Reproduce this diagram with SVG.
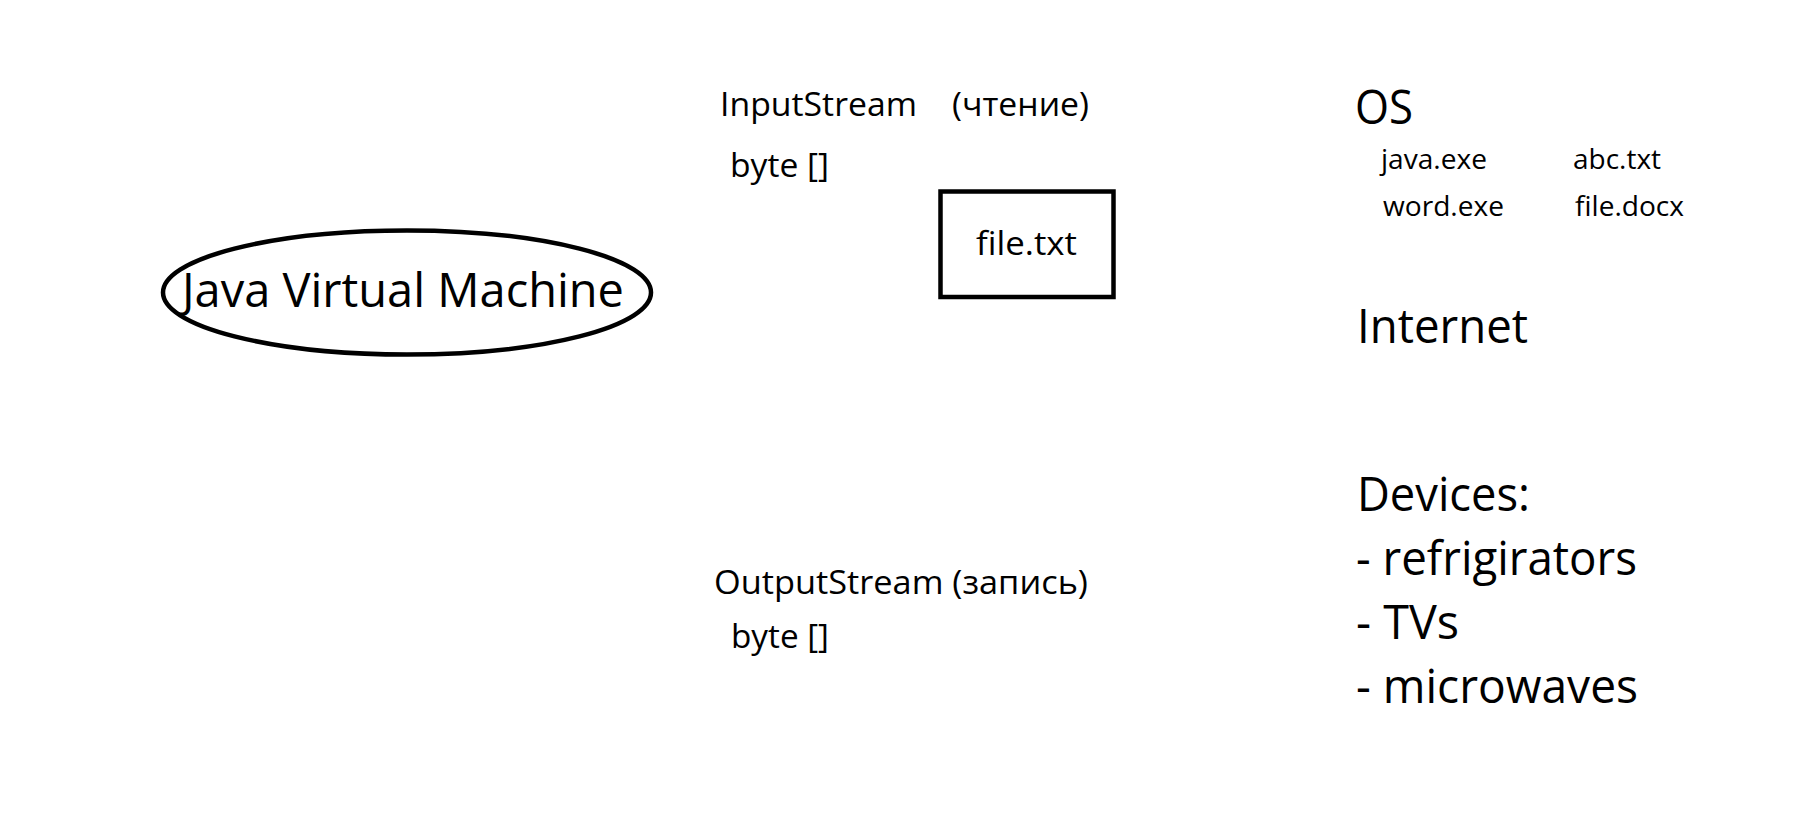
<svg xmlns="http://www.w3.org/2000/svg" width="1818" height="823" viewBox="0 0 1818 823">
<style>
text{font-family:"Open Sans","Noto Sans","Liberation Sans",sans-serif;fill:#000}
.m{font-size:33px}
.l{font-size:47.5px}
.s{font-size:27px}
.shape{fill:none;stroke:#000;stroke-width:4.5}
</style>
<rect width="1818" height="823" fill="#fff"/>
<g id="jvm">
<ellipse class="shape" cx="407" cy="292.5" rx="244" ry="62"/>
<text class="l" x="182" y="307" textLength="442" lengthAdjust="spacingAndGlyphs">Java Virtual Machine</text>
</g>
<g id="inputstream">
<text class="m" x="720" y="116" textLength="197" lengthAdjust="spacingAndGlyphs">InputStream</text>
<text class="m" x="952" y="116" textLength="137" lengthAdjust="spacingAndGlyphs">(чтение)</text>
<text class="m" x="730" y="177" textLength="99" lengthAdjust="spacingAndGlyphs">byte []</text>
</g>
<g id="file">
<rect class="shape" x="940.5" y="191.5" width="173" height="105.5"/>
<text class="m" x="976" y="255" textLength="101" lengthAdjust="spacingAndGlyphs">file.txt</text>
</g>
<g id="outputstream">
<text class="m" x="714" y="594" textLength="374" lengthAdjust="spacingAndGlyphs">OutputStream (запись)</text>
<text class="m" x="731" y="648" textLength="98" lengthAdjust="spacingAndGlyphs">byte []</text>
</g>
<g id="os">
<text class="l" x="1355" y="124" textLength="58" lengthAdjust="spacingAndGlyphs">OS</text>
<text class="s" x="1381" y="169" textLength="106" lengthAdjust="spacingAndGlyphs">java.exe</text>
<text class="s" x="1573" y="169" textLength="88" lengthAdjust="spacingAndGlyphs">abc.txt</text>
<text class="s" x="1383" y="216" textLength="121" lengthAdjust="spacingAndGlyphs">word.exe</text>
<text class="s" x="1575" y="216" textLength="109" lengthAdjust="spacingAndGlyphs">file.docx</text>
</g>
<g id="internet">
<text class="l" x="1357" y="343" textLength="171" lengthAdjust="spacingAndGlyphs">Internet</text>
</g>
<g id="devices">
<text class="l" x="1357" y="511" textLength="173" lengthAdjust="spacingAndGlyphs">Devices:</text>
<text class="l" x="1356" y="575" textLength="281" lengthAdjust="spacingAndGlyphs">- refrigirators</text>
<text class="l" x="1356" y="639" textLength="103" lengthAdjust="spacingAndGlyphs">- TVs</text>
<text class="l" x="1356" y="703" textLength="282" lengthAdjust="spacingAndGlyphs">- microwaves</text>
</g>
<g id="connectors"></g>
</svg>
